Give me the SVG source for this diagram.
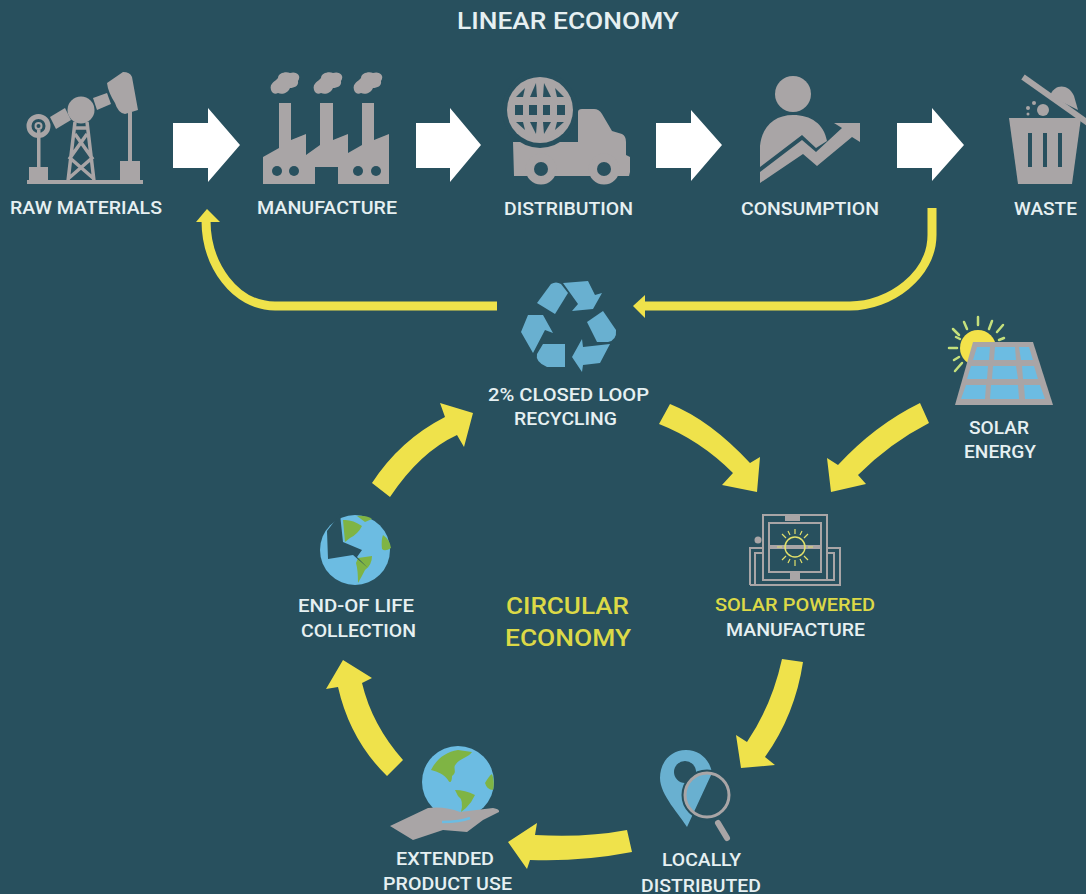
<svg xmlns="http://www.w3.org/2000/svg" width="1086" height="894" viewBox="0 0 1086 894">
<style>
.t{font-family:"Roboto","Liberation Sans",sans-serif;font-weight:500;font-size:18px;fill:#e6f0f2;text-anchor:middle}
.big{font-size:24px}
.y{fill:#dcd947}
.g{fill:#a9a5a6}
.d{fill:#28505e}
.gl{fill:none;stroke:#a9a5a6}
.w{fill:#fff}
.ya{fill:#efe24b}
.yl{fill:none;stroke:#efe24b;stroke-width:9}
.b{fill:#69b0d0}
.sky{fill:#6cbce2}
.land{fill:#7fb444}
.ray{stroke:#c5e07c;stroke-width:2.500;stroke-linecap:round}
.ray2{stroke:#e2e06a;stroke-width:1.200}
</style>
<rect width="1086" height="894" fill="#28505e"/>
<text id="title" class="t big" x="568" y="29" textLength="222" lengthAdjust="spacingAndGlyphs">LINEAR ECONOMY</text>

<g id="raw-materials">
<rect class="g" x="27" y="180" width="116" height="4"/>
<rect class="g" x="29" y="167" width="19" height="15"/>
<rect class="g" x="120" y="161" width="20" height="21"/>
<rect class="g" x="37" y="130" width="3.500" height="38"/>
<circle cx="38.500" cy="126" r="9.500" fill="none" stroke="#a9a5a6" stroke-width="5"/>
<circle cx="38.500" cy="126" r="3" fill="none" stroke="#a9a5a6" stroke-width="2"/>
<circle class="g" cx="81" cy="110" r="13.500"/>
<polygon class="g" points="50,117 65,108 71,120 56,129"/>
<polygon class="g" points="93,98 107,93 111,104 97,110"/>
<path class="g" d="M107 83 L123 72 Q130 72 132 77 L138 110 L125 114 Q118 113 115 103 Q108 92 107 83Z"/>
<rect class="g" x="128" y="112" width="4" height="50"/>
<path class="gl" stroke-width="3.500" d="M75 122 L68 181 M87 122 L94 181 M75 128 H87 M75 134 L92 158 L69 178 M87 134 L70 158 L93 178"/>
</g>

<g id="manufacture">
<path class="g" d="M263 184 V157 L279 148 V103 H291 V140 L306 134 V155 L320 145 V103 H333 V140 L348 134 V153 L362 145 V103 H374 V140 L389 134 V184 H338 V167 H315 V184Z"/>
<circle class="d" cx="277" cy="171" r="5"/><circle class="d" cx="294" cy="171" r="5"/><circle class="d" cx="358" cy="171" r="5"/><circle class="d" cx="376" cy="171" r="5"/>
<g id="smoke" class="g">
<path d="M271 90 C269 83 276 81 278 78 C278 73 286 71 290 73 C296 71 302 75 298 81 C299 86 294 88 290 88 C288 93 282 95 278 93 C275 95 272 93 271 90Z"/>
<path d="M314 90 C312 83 319 81 321 78 C321 73 329 71 333 73 C339 71 345 75 341 81 C342 86 337 88 333 88 C331 93 325 95 321 93 C318 95 315 93 314 90Z"/>
<path d="M354 90 C352 83 359 81 361 78 C361 73 369 71 373 73 C379 71 385 75 381 81 C382 86 377 88 373 88 C371 93 365 95 361 93 C358 95 355 93 354 90Z"/>
</g>
</g>

<g id="distribution">
<path class="g" d="M513 142 H578 V112 Q578 109 582 109 H594 Q599 109 602 114 L612 131 L622 134 Q626 136 626 142 V155 L630 157 V172 L629 176 H514Z"/>
<circle class="g" cx="541" cy="169" r="15.500"/>
<circle class="g" cx="604" cy="169" r="15.500"/>
<circle class="d" cx="541" cy="169" r="7"/>
<circle class="d" cx="604" cy="169" r="7"/>
<circle class="d" cx="540" cy="110" r="38"/>
<circle class="g" cx="540" cy="110" r="33"/>
<g class="d">
<polygon points="516,97 525,88 523,97"/><polygon points="530,97 536,83 537,97"/><polygon points="543,97 544,83 551,97"/><polygon points="557,97 555,88 564,97"/>
<rect x="515" y="105" width="8" height="10"/><rect x="529" y="105" width="8" height="10"/><rect x="543" y="105" width="7" height="10"/><rect x="557" y="105" width="8" height="10"/>
<polygon points="516,122 523,122 525,130"/><polygon points="530,122 537,122 536,134"/><polygon points="543,122 551,122 544,134"/><polygon points="557,122 564,122 555,130"/>
</g>
</g>

<g id="consumption">
<circle class="g" cx="793" cy="94" r="18"/>
<path class="g" d="M760 167 V146 C762 126 775 115 793 115 C811 115 824 124 827 141 L816 148 L802 135Z"/>
<path class="g" d="M760 183 V172 L802 140 L816 152 L842 128 L834 123 H860 V142 L852 137 L817 166 L803 154Z"/>
</g>

<g id="waste">
<polygon class="g" points="1009,118 1081,118 1072,184 1018,184"/>
<path d="M1030 133 V167 M1045 133 V167 M1060 133 V167" stroke="#28505e" stroke-width="4"/>
<path d="M1023 77 L1088 123" stroke="#a9a5a6" stroke-width="6"/>
<path class="g" d="M1050 96 C1054 84 1068 83 1074 96 L1078 110Z"/>
<circle class="g" cx="1043" cy="110" r="6"/>
<circle class="g" cx="1034" cy="103" r="2"/><circle class="g" cx="1028" cy="108" r="2"/><circle class="g" cx="1028" cy="114" r="1.500"/>
</g>

<g id="recycling">
<path class="b" d="M537 303 L551 284 Q556 281 561 284 L568 293 L555 314Z"/>
<polygon class="b" points="563,283 588,281 595,295 602,293 593,309 572,311 578,304"/>
<path class="b" d="M587 322 L603 311 L616 330 Q617 340 608 342 L597 342Z"/>
<polygon class="b" points="610,344 600,363 583,365 582,372 572,357 582,339 583,347"/>
<path class="b" d="M543 344 H565 V367 H547 Q535 362 537 354Z"/>
<polygon class="b" points="521,332 528,315 543,315 553,333 545,330 533,353"/>
</g>

<g id="solar-energy">
<circle cx="978" cy="348" r="18" fill="#f3e24a"/>
<path class="ray" d="M978 317 V325 M964 322 L967 329 M992 321 L989 329 M953 329 L959 335 M1003 325 L997 332 M949 348 H957 M954 360 L959 357 M955 371 L962 363 M956 337 L960 339 M1004 338 L999 340"/>
<polygon class="g" points="973,342 1033,342 1053,405 955,405"/>
<g class="sky">
<polygon points="977,347 990,347 989,360 973,360"/><polygon points="995,347 1015,347 1016,360 994,360"/><polygon points="1019,347 1029,347 1033,360 1021,360"/>
<polygon points="971,366 988,366 987,379 967,379"/><polygon points="993,366 1016,366 1018,379 992,379"/><polygon points="1022,366 1034,366 1038,379 1023,379"/>
<polygon points="966,385 986,385 985,399 961,399"/><polygon points="991,385 1018,385 1019,399 990,399"/><polygon points="1024,385 1040,385 1045,399 1025,399"/>
</g>
</g>

<g id="solar-manufacture">
<g class="gl" stroke-width="2">
<rect x="763" y="515" width="64" height="65"/>
<rect x="769" y="523" width="52" height="49"/>
<path d="M750 585 V548 H763 M755 585 V553 H763 M827 548 H840 V585 H750 M827 553 H834 V580 H763"/>
</g>
<rect class="g" x="769" y="545" width="52" height="4"/>
<rect class="g" x="785" y="516" width="15" height="5"/>
<rect class="g" x="790" y="573" width="10" height="7"/>
<circle class="g" cx="758" cy="540" r="3.500"/>
<circle cx="795" cy="547" r="10" fill="none" stroke="#e2e06a" stroke-width="1.500"/>
<path class="ray2" d="M795 529 V534 M795 560 V566 M777 547 H782 M808 547 H813 M782 534 L786 538 M808 534 L804 538 M782 560 L786 556 M808 560 L804 556 M788 531 L790 535 M802 531 L800 535 M788 563 L790 559 M802 563 L800 559"/>
</g>

<g id="locally-distributed">
<path class="b" d="M686 750 C670 750 660 763 660 778 C660 795 680 815 687 827 L712 773 C710 760 700 750 686 750Z"/>
<circle class="d" cx="685" cy="772" r="11"/>
<circle cx="707" cy="795" r="24" fill="none" stroke="#28505e" stroke-width="3"/>
<path class="d" d="M714 773 L695 816 Q720 820 730 795 Q728 778 714 773Z"/>
<circle cx="707" cy="795" r="22" fill="none" stroke="#a9a5a6" stroke-width="3"/>
<path d="M718 823 L727 838" stroke="#a9a5a6" stroke-width="6" stroke-linecap="round"/>
</g>

<g id="product-use">
<circle class="sky" cx="458" cy="782" r="36"/>
<path class="land" d="M431 770 C436 760 445 752 458 750 L472 752 C468 758 460 758 456 764 C452 768 458 772 452 776 C452 782 450 784 448 780 C444 774 438 772 431 770Z"/>
<path class="land" d="M485 783 Q489 776 492 774 Q495 782 493 790 Q487 790 485 783Z"/>
<path class="land" d="M455 790 Q465 790 475 795 Q472 802 466 808 L461 812 Q464 800 458 796Z"/>
<path class="g" d="M390 826 L428 808 Q445 806 460 812 L493 808 Q500 809 499 812 L483 820 L467 832 L443 830 L413 840Z"/>
<path d="M442 822 Q460 822 470 818" stroke="#6cbce2" stroke-width="2.500" fill="none"/>
</g>

<g id="end-of-life">
<circle class="sky" cx="355" cy="550" r="35"/>
<path class="land" d="M343 520 Q352 519 362 526 Q358 534 350 538 L345 542Z"/>
<path class="land" d="M357 516 Q366 515 372 519 L365 522Z"/>
<path class="land" d="M383 535 Q390 540 391 548 Q385 552 382 549 Q381 540 383 535Z"/>
<path class="land" d="M358 558 L372 556 Q372 565 365 570 Q362 576 358 583 Q358 570 356 563Z"/>
<polygon class="d" points="327,531 340,514 343,542 362,550 357,557 368,568 353,555 328,559"/>
</g>

<g id="connectors">
<g id="linear-arrows" class="w">
<polygon points="173,123 208,123 208,108 240,145 208,182 208,168 173,168"/>
<polygon points="416,123 450,123 450,108 481,145 450,182 450,168 416,168"/>
<polygon points="656,123 691,123 691,110 722,145 691,181 691,168 656,168"/>
<polygon points="897,123 932,123 932,108 964,145 932,181 932,168 897,168"/>
</g>
<g id="recycle-arrows">
<path class="yl" d="M932 208 V235 C932 275 890 306 850 306 H642"/>
<polygon class="ya" points="633,306 645,295 645,318"/>
<path class="yl" d="M497 306 H275 C235 306 206 265 206 220"/>
<polygon class="ya" points="207,209 196,222 220,222"/>
</g>
<g id="circular-arrows" class="ya">
<path d="M670 404 Q710 420 750 463 L760 457 L757 492 L722 485 L733 473 Q700 440 659 424Z"/>
<path d="M920 403 Q875 425 838 465 L827 458 L831 492 L866 484 L858 475 Q890 443 929 423Z"/>
<path d="M782 659 Q772 705 747 742 L736 735 L741 768 L775 765 L765 757 Q795 715 803 662Z"/>
<path d="M627 830 Q585 838 535 835 L537 823 L508 842 L527 869 L530 860 Q580 862 632 852Z"/>
<path d="M403 760 Q372 725 362 683 L372 678 L343 660 L326 689 L338 687 Q350 740 387 776Z"/>
<path d="M372 483 Q400 440 445 417 L440 403 L473 413 L464 447 L457 435 Q420 452 390 497Z"/>
</g>
</g>

<g id="labels">
<text class="t" x="86" y="214" textLength="152" lengthAdjust="spacingAndGlyphs">RAW MATERIALS</text>
<text class="t" x="327" y="214" textLength="140" lengthAdjust="spacingAndGlyphs">MANUFACTURE</text>
<text class="t" x="568.500" y="215" textLength="129" lengthAdjust="spacingAndGlyphs">DISTRIBUTION</text>
<text class="t" x="810" y="215" textLength="138" lengthAdjust="spacingAndGlyphs">CONSUMPTION</text>
<text class="t" x="1045.500" y="215" textLength="63" lengthAdjust="spacingAndGlyphs">WASTE</text>
<text class="t" x="568.500" y="401" textLength="161" lengthAdjust="spacingAndGlyphs">2% CLOSED LOOP</text>
<text class="t" x="565.500" y="425" textLength="103" lengthAdjust="spacingAndGlyphs">RECYCLING</text>
<text class="t" x="999" y="434" textLength="60" lengthAdjust="spacingAndGlyphs">SOLAR</text>
<text class="t" x="1000" y="458" textLength="72" lengthAdjust="spacingAndGlyphs">ENERGY</text>
<text class="t y" x="795" y="611" textLength="160" lengthAdjust="spacingAndGlyphs">SOLAR POWERED</text>
<text class="t" x="795.500" y="636" textLength="139" lengthAdjust="spacingAndGlyphs">MANUFACTURE</text>
<text class="t" x="356" y="612" textLength="116" lengthAdjust="spacingAndGlyphs">END-OF LIFE</text>
<text class="t" x="358.500" y="637" textLength="115" lengthAdjust="spacingAndGlyphs">COLLECTION</text>
<text class="t big y" x="567.500" y="614" textLength="123" lengthAdjust="spacingAndGlyphs">CIRCULAR</text>
<text class="t big y" x="568" y="646" textLength="126" lengthAdjust="spacingAndGlyphs">ECONOMY</text>
<text class="t" x="445" y="865" textLength="98" lengthAdjust="spacingAndGlyphs">EXTENDED</text>
<text class="t" x="447.500" y="890" textLength="129" lengthAdjust="spacingAndGlyphs">PRODUCT USE</text>
<text class="t" x="701.500" y="866" textLength="79" lengthAdjust="spacingAndGlyphs">LOCALLY</text>
<text class="t" x="701" y="892" textLength="120" lengthAdjust="spacingAndGlyphs">DISTRIBUTED</text>
</g>
</svg>
